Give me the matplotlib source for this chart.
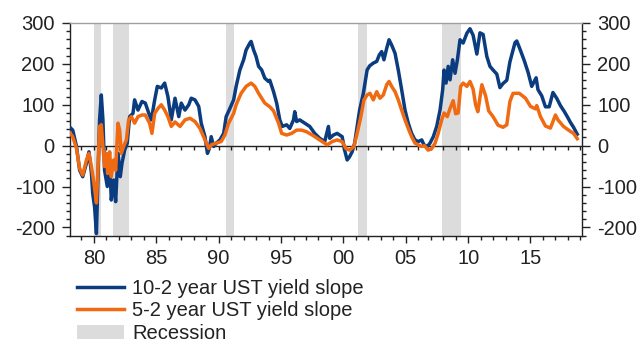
import numpy as np
import matplotlib
matplotlib.use("Agg")
import matplotlib.pyplot as plt
from matplotlib.ticker import MultipleLocator, FixedLocator
from matplotlib.patches import Patch
from matplotlib.lines import Line2D

plt.rcParams["font.family"] = ["Liberation Sans", "DejaVu Sans"]
plt.rcParams["axes.unicode_minus"] = False

# 10-2 year UST yield slope (bp)
t_10_2 = [1978.0, 1978.3, 1978.6, 1978.85, 1979.1, 1979.4, 1979.6, 1979.8, 1979.9, 1980.05,
          1980.2, 1980.32, 1980.45, 1980.59, 1980.72, 1980.85, 1981.07, 1981.26, 1981.39, 1981.58,
          1981.74, 1981.93, 1982.11, 1982.25, 1982.46, 1982.67, 1982.86, 1983.13, 1983.26, 1983.53,
          1983.85, 1984.12, 1984.4, 1984.6, 1984.87, 1985.08, 1985.4, 1985.67, 1985.93, 1986.2,
          1986.5, 1986.8, 1987.0, 1987.3, 1987.6, 1987.8, 1988.1, 1988.4, 1988.6, 1988.9,
          1989.1, 1989.25, 1989.4, 1989.6, 1989.8, 1990.1, 1990.4, 1990.6, 1990.9, 1991.2,
          1991.4, 1991.7, 1992.0, 1992.2, 1992.5, 1992.6, 1992.8, 1993.0, 1993.2, 1993.45,
          1993.7, 1994.0, 1994.1, 1994.4, 1994.65, 1994.9, 1995.1, 1995.45, 1995.7, 1996.0,
          1996.1, 1996.25, 1996.5, 1996.9, 1997.3, 1997.7, 1998.1, 1998.5, 1998.8, 1998.9,
          1999.2, 1999.5, 1999.9, 2000.1, 2000.3, 2000.5, 2000.7, 2000.9, 2001.1, 2001.3,
          2001.6, 2001.9, 2002.1, 2002.4, 2002.67, 2002.88, 2003.07, 2003.25, 2003.47, 2003.66,
          2003.87, 2004.14, 2004.4, 2004.67, 2004.94, 2005.2, 2005.47, 2005.74, 2006.0, 2006.28,
          2006.46, 2006.73, 2006.94, 2007.21, 2007.48, 2007.75, 2007.96, 2008.07, 2008.23, 2008.4,
          2008.55, 2008.76, 2008.95, 2009.14, 2009.35, 2009.6, 2009.9, 2010.15, 2010.4, 2010.7,
          2010.95, 2011.2, 2011.5, 2011.75, 2012.0, 2012.3, 2012.55, 2012.8, 2013.1, 2013.35,
          2013.76, 2013.9, 2014.16, 2014.5, 2014.8, 2015.1, 2015.45, 2015.6, 2015.9, 2016.2,
          2016.5, 2016.8, 2017.1, 2017.4, 2017.7, 2017.95, 2018.2, 2018.45, 2018.75]
slope_10_2 = [47, 38, -2, -60, -76, -43, -15, -68, -117, -150,
              -215, -84, 63, 124, 63, -60, -100, -35, -133, -84,
              -137, -19, -76, -43, -11, 6, 71, 79, 112, 87,
              108, 104, 79, 63, 112, 145, 141, 153, 120, 63,
              116, 71, 104, 87, 100, 116, 112, 96, 55, 22,
              -19, -7, 22, -2, 6, 14, 30, 71, 91, 112,
              145, 185, 210, 234, 251, 255, 234, 218, 194, 185,
              165, 157, 160, 132, 104, 63, 47, 51, 42, 63,
              83, 59, 63, 55, 47, 30, 18, 10, 47, 18,
              26, 30, 22, -11, -35, -27, -15, 6, 47, 87,
              128, 185, 195, 202, 206, 222, 230, 210, 238, 259,
              246, 226, 185, 137, 87, 55, 30, 14, 10, 14,
              2, -2, 6, 22, 47, 87, 137, 185, 153, 194,
              161, 210, 177, 210, 259, 251, 275, 286, 270, 224,
              276, 272, 218, 194, 185, 175, 142, 152, 160, 205,
              252, 256, 236, 208, 180, 145, 166, 137, 122, 95,
              95, 130, 116, 98, 84, 71, 57, 45, 28]

# 5-2 year UST yield slope (bp)
t_5_2 = [1978.0, 1978.3, 1978.6, 1978.85, 1979.1, 1979.4, 1979.6, 1979.8, 1980.0, 1980.2,
         1980.32, 1980.45, 1980.59, 1980.72, 1980.85, 1981.0, 1981.1, 1981.26, 1981.39, 1981.58,
         1981.74, 1981.93, 1982.06, 1982.19, 1982.38, 1982.6, 1982.78, 1983.0, 1983.26, 1983.53,
         1983.85, 1984.12, 1984.46, 1984.65, 1984.87, 1985.13, 1985.4, 1985.67, 1985.93, 1986.2,
         1986.5, 1986.9, 1987.3, 1987.7, 1988.1, 1988.5, 1988.9, 1989.2, 1989.4, 1989.8,
         1990.2, 1990.5, 1990.8, 1991.2, 1991.4, 1991.8, 1992.2, 1992.6, 1992.9, 1993.2,
         1993.45, 1993.7, 1994.1, 1994.4, 1994.8, 1995.05, 1995.45, 1995.85, 1996.25, 1996.65,
         1997.05, 1997.5, 1997.9, 1998.3, 1998.7, 1999.1, 1999.5, 1999.9, 2000.2, 2000.5,
         2000.85, 2001.1, 2001.4, 2001.65, 2001.9, 2002.13, 2002.4, 2002.67, 2002.93, 2003.2,
         2003.47, 2003.66, 2003.87, 2004.14, 2004.4, 2004.67, 2004.94, 2005.2, 2005.47, 2005.74,
         2006.0, 2006.28, 2006.5, 2006.8, 2007.08, 2007.35, 2007.6, 2007.88, 2008.07, 2008.33,
         2008.55, 2008.8, 2009.0, 2009.2, 2009.4, 2009.6, 2009.9, 2010.15, 2010.4, 2010.6,
         2010.78, 2011.1, 2011.4, 2011.65, 2012.0, 2012.4, 2012.8, 2013.1, 2013.35, 2013.6,
         2014.1, 2014.6, 2015.0, 2015.4, 2015.5, 2015.8, 2016.2, 2016.6, 2017.0, 2017.2,
         2017.65, 2018.05, 2018.45, 2018.75]
slope_5_2 = [34, 22, -7, -56, -72, -35, -19, -51, -92, -140,
             -60, 47, 51, -2, -51, -19, -68, -15, -76, -35,
             -60, 55, 38, -19, -2, 14, 63, 71, 55, 71,
             75, 75, 55, 30, 79, 91, 100, 87, 71, 47,
             58, 47, 63, 67, 59, 42, 14, -7, 2, 6,
             10, 26, 55, 79, 100, 128, 145, 153, 145, 128,
             116, 104, 95, 85, 55, 30, 26, 30, 38, 38,
             34, 26, 18, 10, 2, 10, 14, 10, -7, -11,
             -2, 30, 71, 112, 124, 128, 112, 132, 116, 124,
             149, 157, 145, 132, 112, 87, 63, 42, 22, 6,
             2, -2, 0, -11, -7, 6, 30, 63, 80, 71,
             91, 110, 78, 80, 145, 153, 145, 157, 138, 100,
             83, 149, 122, 85, 71, 50, 45, 51, 108, 128,
             128, 116, 96, 90, 98, 71, 48, 43, 75, 63,
             47, 38, 30, 17]

# US recessions (start, end)
rec_start = [1980.0, 1981.55, 1990.55, 2001.2, 2007.92]
rec_end = [1980.55, 1982.85, 1991.2, 2001.87, 2009.45]

tick_years = [1980, 1985, 1990, 1995, 2000, 2005, 2010, 2015]
tick_labels = ["80", "85", "90", "95", "00", "05", "10", "15"]

blue = "#0B3C7F"
orange = "#F06A12"
grey = "#DCDCDC"

fig = plt.figure(figsize=(6.41, 3.45), dpi=100)
ax = fig.add_axes([70 / 641, 1 - 236 / 345, 512 / 641, 213 / 345])

xmin, xmax = 1978.08, 2019.13
ymin, ymax = -221, 300
ax.set_xlim(xmin, xmax)
ax.set_ylim(ymin, ymax)

for s, e in zip(rec_start, rec_end):
    ax.axvspan(s, e, color=grey, lw=0, zorder=0)

ax.axhline(0, color="#222222", lw=1.0, zorder=1)
ax.plot(t_10_2, slope_10_2, color=blue, lw=2.5, zorder=3, solid_joinstyle="round")
ax.plot(t_5_2, slope_5_2, color=orange, lw=2.5, zorder=4, solid_joinstyle="round")

# axes styling
ax.xaxis.set_major_locator(FixedLocator(tick_years))
ax.set_xticklabels(tick_labels)
ax.xaxis.set_minor_locator(MultipleLocator(1))
ax.yaxis.set_major_locator(MultipleLocator(100))
ax.yaxis.set_minor_locator(MultipleLocator(20))
ax.tick_params(axis="both", which="both", direction="out", colors="#222222",
               labelsize=14.5, width=1.0)
ax.tick_params(axis="y", which="major", length=6, pad=5, left=True, right=True,
               labelleft=True, labelright=True)
ax.tick_params(axis="y", which="minor", length=3, left=True, right=True)
ax.tick_params(axis="x", which="major", length=5, pad=4)
ax.tick_params(axis="x", which="minor", length=3)
for side in ["left", "right", "bottom"]:
    ax.spines[side].set_color("#222222")
    ax.spines[side].set_linewidth(1.0)
ax.spines["top"].set_color("#a0a0a0")
ax.spines["top"].set_linewidth(1.0)

# ticks along the zero line
zero_loc = (0 - ymin) / (ymax - ymin)
sec = ax.secondary_xaxis(zero_loc)
sec.xaxis.set_major_locator(FixedLocator(tick_years))
sec.xaxis.set_minor_locator(MultipleLocator(1))
sec.tick_params(axis="x", which="both", direction="out", length=3, width=1.0,
                colors="#222222", labelbottom=False, labeltop=False)
sec.spines["top"].set_visible(False)
sec.spines["bottom"].set_visible(False)

handles = [Line2D([], [], color=blue, lw=2.5),
           Line2D([], [], color=orange, lw=2.5),
           Patch(facecolor=grey, edgecolor="none")]
labels = ["10-2 year UST yield slope", "5-2 year UST yield slope", "Recession"]
fig.legend(handles, labels, loc="upper left", bbox_to_anchor=(77 / 641, 1 - 279 / 345),
           frameon=False, fontsize=14.5, handlelength=2.35, handletextpad=0.4,
           labelspacing=0.17, borderpad=0, borderaxespad=0, labelcolor="#222222")

fig.savefig("out.png", dpi=100)
